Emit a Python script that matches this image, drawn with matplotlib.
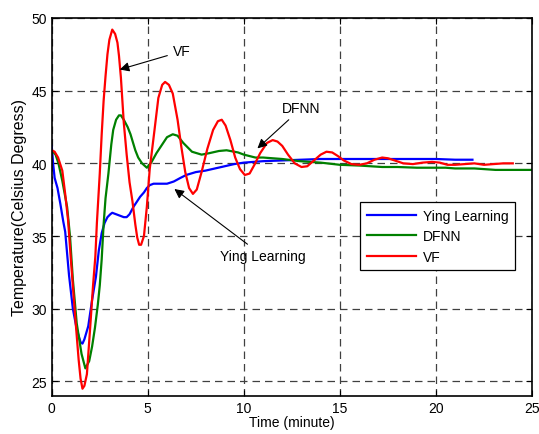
import matplotlib
matplotlib.use("Agg")
import matplotlib.pyplot as plt

plt.rcParams['font.family'] = ['Liberation Sans', 'DejaVu Sans']

# VF response
vf_t = [0, 0.15, 0.33, 0.55, 0.7, 0.85, 1.0, 1.23, 1.4, 1.5,
        1.6, 1.7, 1.83, 2.0, 2.15, 2.27, 2.35, 2.5, 2.6, 2.7,
        2.8, 2.9, 3.0, 3.15, 3.3, 3.42, 3.5, 3.6, 3.75, 3.9,
        4.05, 4.2, 4.35, 4.45, 4.55, 4.65, 4.8, 4.95, 5.1, 5.35,
        5.55, 5.75, 5.9, 6.1, 6.3, 6.55, 6.75, 6.95, 7.15, 7.35,
        7.55, 7.8, 8.1, 8.4, 8.65, 8.85, 9.05, 9.3, 9.55, 9.8,
        10.05, 10.3, 10.55, 10.85, 11.2, 11.5, 11.75, 12.0, 12.3, 12.65,
        13.0, 13.3, 13.65, 14.0, 14.3, 14.6, 14.9, 15.2, 15.6, 16.0,
        16.4, 16.8, 17.2, 17.5, 17.85, 18.3, 18.8, 19.3, 19.8, 20.2,
        20.6, 21.0, 21.5, 22.0, 22.5, 23.0, 23.5, 24.0]
vf_y = [40.9, 40.8, 40.4, 39.5, 37.9, 36.1, 33.3, 29.3, 26.5, 25.2,
        24.5, 24.7, 25.5, 28.7, 31.6, 33.6, 35.9, 39.3, 42.0, 44.3,
        46.0, 47.5, 48.5, 49.2, 48.9, 48.3, 47.4, 45.9, 42.8, 40.6,
        38.7, 37.4, 35.8, 34.9, 34.4, 34.4, 35.0, 37.0, 39.6, 42.3,
        44.5, 45.4, 45.6, 45.4, 44.8, 43.0, 41.1, 39.4, 38.3, 37.9,
        38.2, 39.4, 41.0, 42.3, 42.9, 43.0, 42.6, 41.6, 40.4, 39.6,
        39.2, 39.3, 39.9, 40.7, 41.4, 41.6, 41.5, 41.2, 40.6, 40.0,
        39.75, 39.8, 40.2, 40.6, 40.8, 40.75, 40.5, 40.2, 39.95, 39.9,
        40.0, 40.25, 40.4, 40.35, 40.2, 40.0, 39.95, 40.05, 40.1, 40.05,
        39.9, 39.9, 39.95, 40.0, 39.9, 39.95, 40.0, 40.0]

# Ying Learning response
ying_t = [0, 0.07, 0.15, 0.3, 0.45, 0.6, 0.7, 0.9, 1.1, 1.3,
          1.5, 1.6, 1.7, 1.9, 2.1, 2.3, 2.45, 2.6, 2.75, 2.9,
          3.05, 3.15, 3.35, 3.55, 3.75, 3.9, 4.05, 4.25, 4.45, 4.6,
          4.8, 4.95, 5.1, 5.3, 5.6, 6.0, 6.35, 6.7, 7.0, 7.5,
          8.0, 8.5, 9.0, 9.5, 10.0, 10.5, 11.0, 12.0, 13.0, 14.0,
          15.0, 16.0, 17.0, 18.0, 19.0, 20.0, 21.0, 21.9]
ying_y = [41.2, 40.0, 39.0, 38.3, 37.2, 36.0, 35.3, 32.3, 30.0, 28.6,
          27.7, 27.6, 27.9, 28.8, 30.6, 32.2, 34.0, 35.2, 35.9, 36.3,
          36.5, 36.6, 36.5, 36.4, 36.3, 36.3, 36.5, 37.0, 37.4, 37.7,
          38.0, 38.3, 38.5, 38.6, 38.6, 38.6, 38.75, 39.0, 39.2, 39.4,
          39.5, 39.65, 39.8, 39.95, 40.05, 40.1, 40.15, 40.2, 40.25, 40.3,
          40.3, 40.3, 40.3, 40.3, 40.3, 40.3, 40.25, 40.25]

# DFNN response
dfnn_t = [0, 0.2, 0.35, 0.55, 0.8, 0.95, 1.1, 1.3, 1.55, 1.75,
          1.95, 2.1, 2.25, 2.4, 2.5, 2.6, 2.7, 2.8, 2.95, 3.1,
          3.2, 3.35, 3.5, 3.6, 3.75, 3.95, 4.1, 4.35, 4.5, 4.7,
          4.95, 5.2, 5.45, 5.65, 6.0, 6.3, 6.55, 6.85, 7.3, 7.8,
          8.2, 8.7, 9.1, 9.7, 10.0, 10.6, 11.0, 12.0, 12.9, 14.0,
          15.0, 16.0, 17.2, 18.0, 19.0, 20.5, 21.0, 22.0, 23.1, 25.0]
dfnn_y = [40.9, 40.6, 40.0, 38.8, 37.0, 35.0, 32.0, 29.0, 26.9, 25.9,
          26.4, 27.4, 28.7, 30.3, 31.6, 33.4, 35.8, 37.6, 39.3, 41.3,
          42.3, 43.0, 43.3, 43.3, 43.0, 42.5, 42.0, 40.9, 40.4, 40.0,
          39.7, 40.1, 40.7, 41.1, 41.8, 42.0, 41.9, 41.4, 40.8, 40.6,
          40.7, 40.85, 40.9, 40.75, 40.6, 40.4, 40.4, 40.3, 40.15, 40.05,
          39.9, 39.85, 39.75, 39.75, 39.7, 39.7, 39.65, 39.65, 39.55, 39.55]

fig = plt.figure(figsize=(5.39, 4.35), dpi=100)
ax = fig.add_axes([0.096, 0.0874, 0.891, 0.869])

ax.plot(ying_t, ying_y, color='#0000ff', lw=1.6, label='Ying Learning')
ax.plot(dfnn_t, dfnn_y, color='#008000', lw=1.6, label='DFNN')
ax.plot(vf_t, vf_y, color='#ff0000', lw=1.6, label='VF')

ax.set_xlim(0, 25)
ax.set_ylim(24, 50)
ax.set_xticks([0, 5, 10, 15, 20, 25])
ax.set_yticks([25, 30, 35, 40, 45, 50])
ax.tick_params(direction='in', top=True, right=True, labelsize=10, length=4)
ax.grid(True, color='#404040', linestyle=(0, (6, 4)), linewidth=0.9)
for s in ax.spines.values():
    s.set_linewidth(1.2)

ax.set_xlabel('Time (minute)', fontsize=10, labelpad=0)
ax.set_ylabel('Temperature(Celsius Degress)', fontsize=11.5, labelpad=3)

arrow = dict(arrowstyle='-|>', color='black', lw=0.8, mutation_scale=14)
ax.annotate('VF', xy=(3.4, 46.4), xytext=(6.3, 47.7), fontsize=10,
            ha='left', va='center', arrowprops=arrow)
ax.annotate('DFNN', xy=(10.6, 40.9), xytext=(12.0, 43.8), fontsize=10,
            ha='left', va='center', arrowprops=arrow)
ax.annotate('Ying Learning', xy=(6.27, 38.35), xytext=(8.75, 33.65), fontsize=10,
            ha='left', va='center', arrowprops=arrow)

leg = ax.legend(loc='upper right', bbox_to_anchor=(0.965, 0.513), fancybox=False,
                edgecolor='black', fontsize=10, handlelength=3.5, handletextpad=0.5,
                borderaxespad=0, labelspacing=0.45, borderpad=0.5)
leg.get_frame().set_linewidth(0.9)
leg.get_frame().set_alpha(1)

fig.savefig('out.png', dpi=100)
